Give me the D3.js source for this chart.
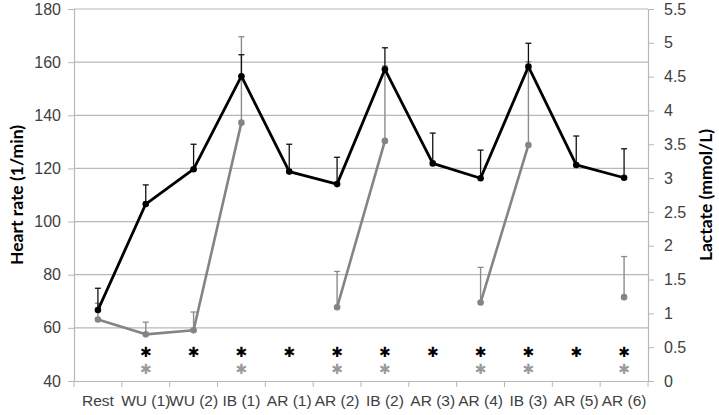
<!DOCTYPE html>
<html>
<head>
<meta charset="utf-8">
<script src="https://cdn.jsdelivr.net/npm/d3@7"></script>
<style>
  body { margin: 0; background: #fff; }
  svg { font-family: Lato, "Open Sans", sans-serif; }
</style>
</head>
<body>
<div class="chart"></div>
<script>
const stages = ["Rest", "WU (1)", "WU (2)", "IB (1)", "AR (1)", "AR (2)", "IB (2)", "AR (3)", "AR (4)", "IB (3)", "AR (5)", "AR (6)"];

// heart rate, mean and upper error
const heartRate = [66.7, 106.6, 119.7, 154.7, 118.8, 114.1, 157.3, 121.9, 116.3, 158.3, 121.3, 116.5];
const heartRateTop = [74.9, 113.8, 129.1, 162.8, 129.1, 124.2, 165.4, 133.3, 126.9, 167.1, 132.2, 127.4];

// lactate, null where not measured
const lactate = [0.91, 0.69, 0.75, 3.82, null, 1.09, 3.55, null, 1.16, 3.49, null, 1.24];
const lactateTop = [1.15, 0.87, 1.02, 5.09, null, 1.62, 4.66, null, 1.68, 4.72, null, 1.84];

// significance marks
const starHR = [false, true, true, true, true, true, true, true, true, true, true, true];
const starLac = [false, true, false, true, false, true, true, false, true, true, false, true];

const hrTicks = d3.range(40, 181, 20);
const lacTicks = d3.range(0, 5.51, 0.5);

const width = 719;
const height = 415;
const m = { left: 74, right: 648, top: 9, bottom: 381 };

const svg = d3.select(".chart")
  .append("svg")
    .attr("width", width)
    .attr("height", height);

const x = d3.scaleBand()
  .domain(stages)
  .range([m.left, m.right]);

const yHR = d3.scaleLinear()
  .domain([40, 180])
  .range([m.bottom, m.top]);

const yLac = d3.scaleLinear()
  .domain([0, 5.5])
  .range([m.bottom, m.top]);

const cx = (i) => x(stages[i]) + x.bandwidth() / 2;

// gridlines
svg.append("g")
  .selectAll("line")
    .data(hrTicks.slice(1)).enter()
  .append("line")
    .attr("x1", m.left)
    .attr("x2", m.right)
    .attr("y1", (d) => yHR(d))
    .attr("y2", (d) => yHR(d))
    .attr("stroke", "#b8b8b8")
    .attr("stroke-width", 1.2);

// axes
const axisLeft = svg.append("g")
  .attr("transform", `translate(${m.left},0)`)
  .call(d3.axisLeft(yHR).tickValues(hrTicks).tickSize(6).tickPadding(7));

const axisRight = svg.append("g")
  .attr("transform", `translate(${m.right},0)`)
  .call(d3.axisRight(yLac).tickValues(lacTicks).tickSize(6).tickPadding(10)
    .tickFormat((d) => d3.format("~g")(d)));

const axisBottom = svg.append("g")
  .attr("transform", `translate(0,${m.bottom})`)
  .call(d3.axisBottom(x).tickSize(0).tickPadding(14));

// tick marks on category boundaries
svg.append("g")
  .selectAll("line")
    .data(d3.range(stages.length + 1)).enter()
  .append("line")
    .attr("x1", (i) => m.left + i * x.bandwidth())
    .attr("x2", (i) => m.left + i * x.bandwidth())
    .attr("y1", m.bottom)
    .attr("y2", m.bottom + 6)
    .attr("stroke", "#b8b8b8");

[axisLeft, axisRight, axisBottom].forEach((a) => {
  a.selectAll(".domain").attr("stroke", "#b8b8b8").attr("stroke-width", 1.2);
  a.selectAll(".tick line").attr("stroke", "#b8b8b8");
  a.selectAll(".tick text").style("font-size", "16px").attr("fill", "#404040");
});
axisBottom.selectAll(".tick text").style("font-size", "15.5px");

// axis titles
svg.append("text")
  .attr("transform", `translate(16,${(m.top + m.bottom) / 2}) rotate(-90)`)
  .attr("text-anchor", "middle")
  .attr("dominant-baseline", "central")
  .style("font-size", "17.5px")
  .style("font-weight", "bold")
  .text("Heart rate (1/min)");

svg.append("text")
  .attr("transform", `translate(705,${(m.top + m.bottom) / 2}) rotate(-90)`)
  .attr("text-anchor", "middle")
  .attr("dominant-baseline", "central")
  .style("font-size", "17.5px")
  .style("font-weight", "bold")
  .text("Lactate (mmol/L)");

// error bars (upper only)
function errorBars(mean, topVal, scale, color, w) {
  const g = svg.append("g");
  const idx = d3.range(mean.length).filter((i) => mean[i] != null);
  g.selectAll(".stem")
    .data(idx).enter()
    .append("line")
      .attr("x1", cx).attr("x2", cx)
      .attr("y1", (i) => scale(mean[i]))
      .attr("y2", (i) => scale(topVal[i]))
      .attr("stroke", color)
      .attr("stroke-width", w);
  g.selectAll(".cap")
    .data(idx).enter()
    .append("line")
      .attr("x1", (i) => cx(i) - 3).attr("x2", (i) => cx(i) + 3)
      .attr("y1", (i) => scale(topVal[i]))
      .attr("y2", (i) => scale(topVal[i]))
      .attr("stroke", color)
      .attr("stroke-width", 1.3);
}

function series(values, scale, color, lineWidth, r) {
  const line = d3.line()
    .defined((d) => d != null)
    .x((d, i) => cx(i))
    .y((d) => scale(d));
  svg.append("path")
    .datum(values)
    .attr("fill", "none")
    .attr("stroke", color)
    .attr("stroke-width", lineWidth)
    .attr("stroke-linejoin", "round")
    .attr("d", line);
  svg.append("g")
    .selectAll("circle")
      .data(d3.range(values.length).filter((i) => values[i] != null)).enter()
    .append("circle")
      .attr("cx", cx)
      .attr("cy", (i) => scale(values[i]))
      .attr("r", r)
      .attr("fill", color);
}

errorBars(lactate, lactateTop, yLac, "#8c8c8c", 1.4);
series(lactate, yLac, "#848484", 2.6, 3.3);
errorBars(heartRate, heartRateTop, yHR, "#111", 1.3);
series(heartRate, yHR, "#000", 2.8, 3.3);

// asterisks
function stars(flags, y, color) {
  svg.append("g")
    .selectAll("text")
      .data(d3.range(flags.length).filter((i) => flags[i])).enter()
    .append("text")
      .attr("x", cx)
      .attr("y", y)
      .attr("text-anchor", "middle")
      .style("font-size", "14px")
      .style("font-family", "'DejaVu Sans', sans-serif")
      .style("font-weight", "bold")
      .attr("fill", color)
      .text("✱");
}
stars(starHR, 357, "#000");
stars(starLac, 374, "#9a9a9a");
</script>
</body>
</html>
